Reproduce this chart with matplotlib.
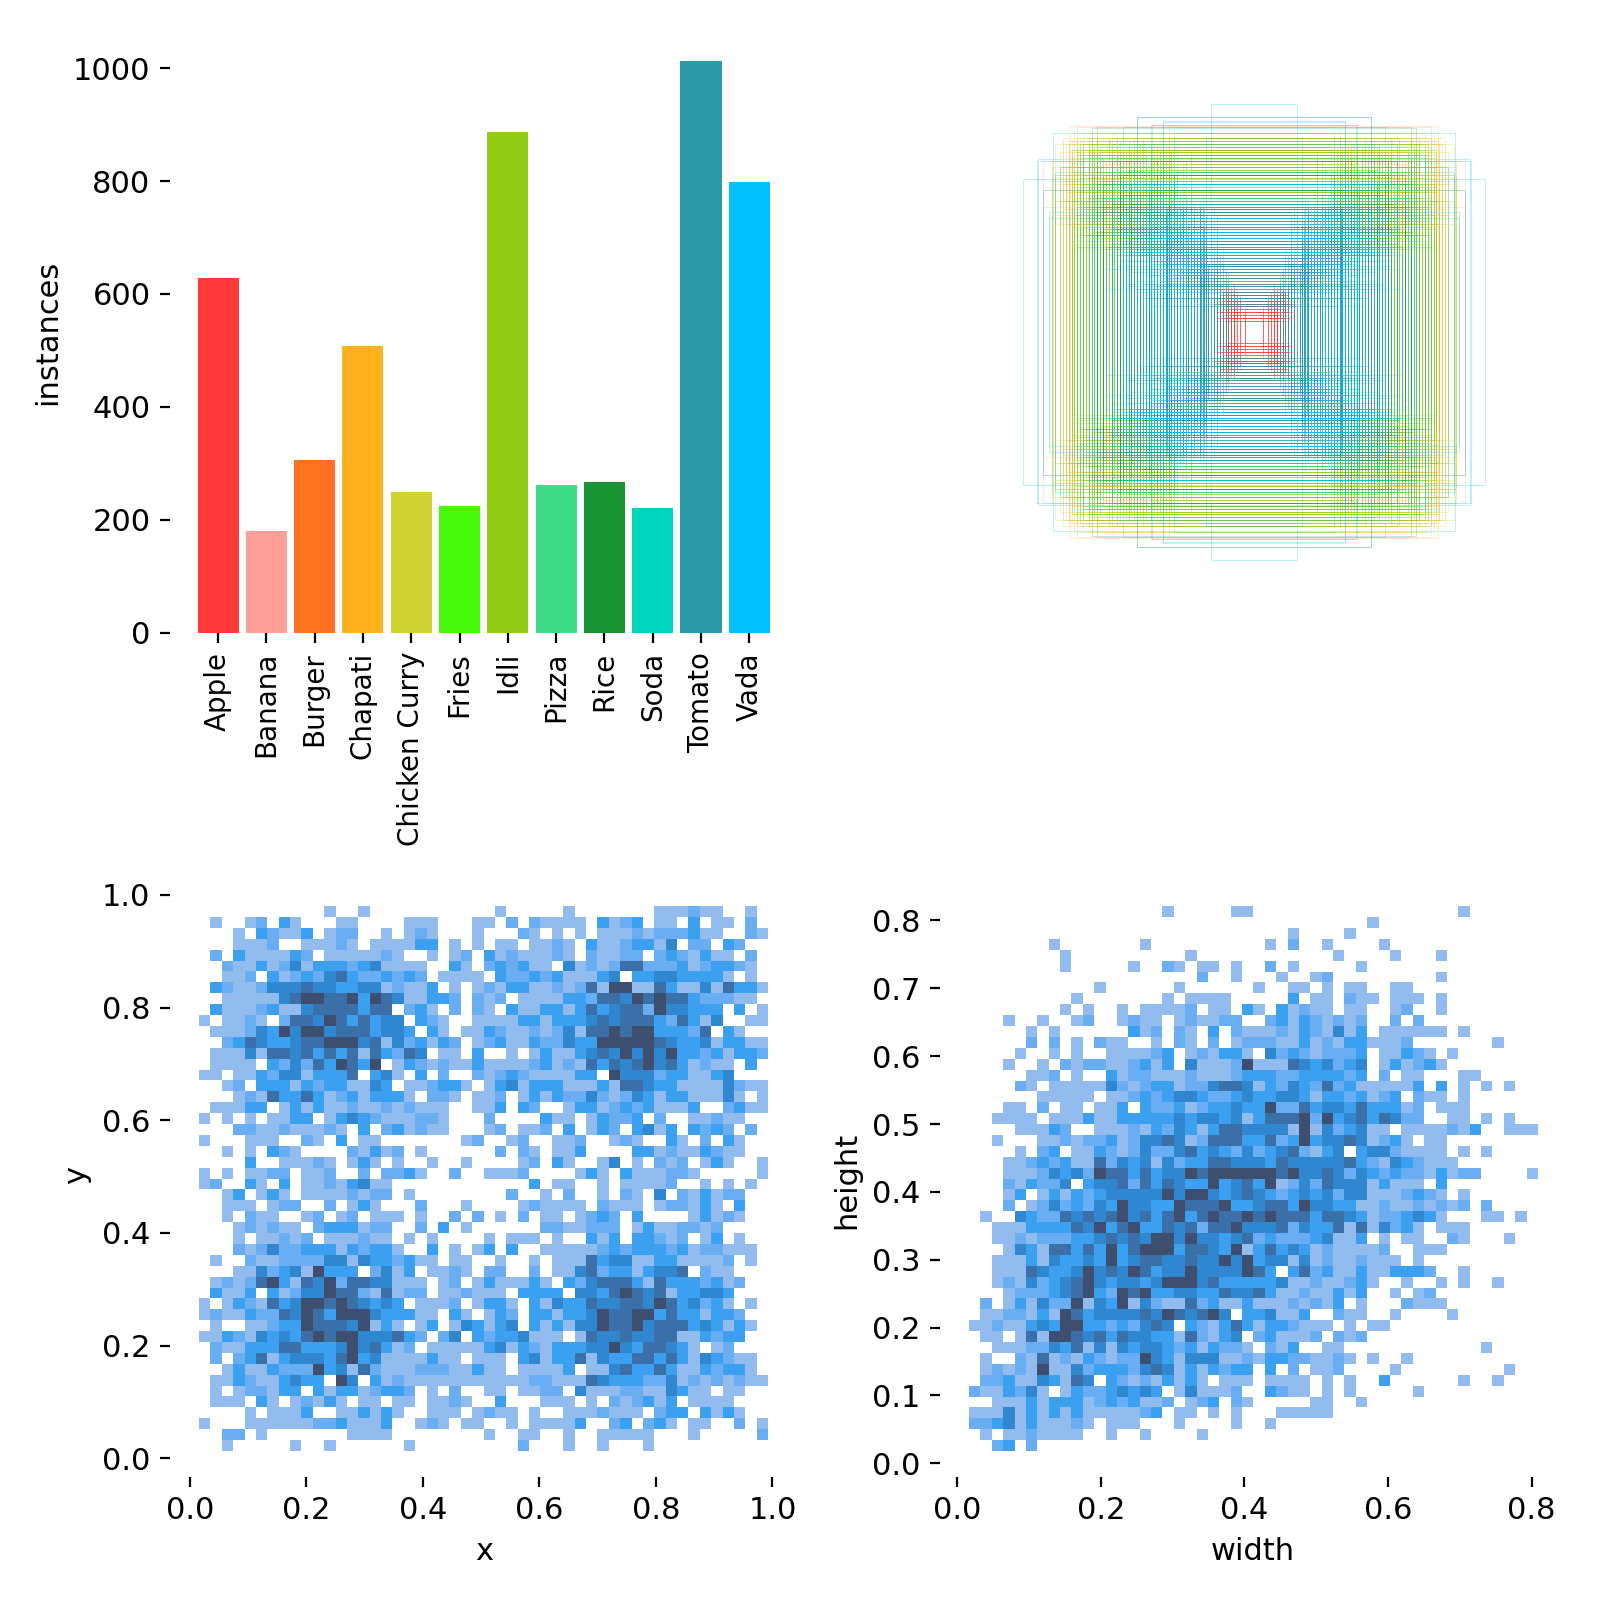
# labels overview: class counts, box outlines, x-y and width-height density
import matplotlib
matplotlib.use('Agg')
import matplotlib.pyplot as plt
from matplotlib.colors import ListedColormap
from matplotlib.patches import Rectangle
import numpy as np

# Set data
names = ['Apple', 'Banana', 'Burger', 'Chapati', 'Chicken Curry', 'Fries', 'Idli', 'Pizza', 'Rice', 'Soda', 'Tomato', 'Vada']
counts = [629, 180, 306, 508, 249, 225, 886, 261, 266, 221, 1013, 799]
colors = ['#FF3838', '#FF9D97', '#FF701F', '#FFB21D', '#CFD231', '#48F90A', '#92CC17', '#3DDB86', '#1A9334', '#00D4BB', '#2C99A8', '#00C2FF']

# box sizes per class (fraction of image)
apple_w = [.03, .05, .07, .08, .09, .10, .11, .12, .06, .07, .09, .10, .11, .13, .08, .12, .10, .14, .09, .07, .12, .13, .10, .11]
apple_h = [.05, .04, .09, .07, .12, .10, .14, .08, .13, .11, .06, .14, .09, .12, .15, .13, .17, .11, .10, .14, .07, .16, .12, .05]
banana_w = [.35, .62, .48, .70, .55, .42, .66, .30, .74, .58]
banana_h = [.52, .44, .68, .55, .72, .60, .46, .58, .50, .66]
burger_w = [.40, .41, .39, .42, .38, .28, .44, .36, .47, .33, .41, .52, .30, .40, .43, .46, .37, .25]
burger_h = [.40, .36, .43, .30, .46, .41, .39, .49, .33, .52, .27, .38, .44, .41, .35, .55, .42, .37]
chapati_w = [.48, .52, .56, .60, .63, .45, .50, .58, .54, .47, .61, .65, .43, .57, .38, .59, .34, .53, .49, .62, .64, .41, .55, .51, .46, .36]
chapati_h = [.50, .46, .60, .42, .55, .62, .37, .52, .48, .58, .40, .49, .64, .35, .66, .44, .54, .39, .56, .47, .61, .45, .34, .67, .53, .63]
curry_w = [.71, .70, .68, .66, .64, .62, .60, .58, .55, .50, .67, .63, .45, .40]
curry_h = [.41, .53, .46, .58, .38, .63, .49, .55, .68, .70, .43, .52, .60, .66]
fries_w = [.33, .40, .47, .52, .58, .36, .44, .55, .30, .49, .61, .42, .38, .56]
fries_h = [.56, .36, .50, .43, .33, .61, .46, .38, .52, .30, .41, .64, .47, .58]
idli_w = [.61, .60, .58, .55, .52, .50, .47, .45, .42, .40, .38, .36, .33, .30, .63, .62, .57, .54, .51, .48, .44, .41, .39, .35, .32,
          .28, .59, .56, .53, .49, .46, .43, .37, .34, .31, .25, .60, .52, .47, .42, .64, .58, .50, .44, .36, .29, .22, .55, .40, .33]
idli_h = [.67, .66, .64, .62, .60, .58, .56, .54, .52, .50, .48, .46, .44, .42, .58, .50, .45, .41, .37, .35, .33, .31, .30, .66, .63,
          .68, .40, .47, .53, .43, .39, .61, .57, .49, .65, .59, .34, .55, .38, .44, .36, .32, .46, .51, .42, .62, .64, .29, .34, .36]
pizza_w = [.30, .35, .38, .42, .46, .50, .54, .58, .62, .44, .33, .48, .27, .56, .40]
pizza_h = [.44, .52, .37, .58, .42, .34, .60, .47, .39, .65, .50, .30, .56, .44, .62]
rice_w = [.30, .34, .37, .40, .43, .46, .50, .53, .28, .41, .47, .36, .55, .32]
rice_h = [.38, .44, .33, .48, .40, .52, .36, .45, .55, .31, .42, .50, .35, .60]
soda_w = [.19, .22, .25, .28, .31, .34, .37, .40, .45, .29, .33, .26, .36, .32, .27, .41, .30, .24, .35, .38, .21]
soda_h = [.43, .44, .43, .44, .39, .43, .45, .41, .43, .37, .43, .33, .46, .40, .43, .44, .43, .35, .44, .30, .30]
tomato_w = [.167, .17, .175, .18, .185, .19, .20, .21, .23, .25, .27, .29, .305, .31, .32, .17, .18, .19, .20, .22, .24, .26, .28, .30, .31, .33, .35, .37, .39, .42,
            .45, .18, .19, .21, .23, .30, .31, .305, .28, .25, .17, .175, .19, .33, .36, .40, .44, .48, .31, .29, .27, .20, .22, .16, .15, .14, .13, .34, .38, .41,
            .09, .10, .11, .12, .13, .14, .16]
tomato_h = [.21, .22, .24, .26, .28, .19, .21, .29, .27, .23, .28, .20, .30, .26, .24, .30, .33, .36, .22, .31, .29, .21, .35, .28, .38, .27, .25, .30, .22, .29,
            .28, .17, .18, .16, .20, .34, .40, .43, .44, .42, .41, .39, .43, .33, .37, .31, .35, .27, .29, .32, .36, .25, .28, .21, .23, .19, .24, .41, .44, .36,
            .12, .09, .14, .10, .16, .12, .15]
vada_w = [.31, .34, .39, .26, .22, .44, .52, .30, .18, .25, .33, .46, .24, .20, .28, .36, .50, .41]
vada_h = [.30, .25, .33, .20, .34, .28, .27, .22, .25, .15, .40, .36, .44, .30, .38, .48, .35, .52]
box_w = [apple_w, banana_w, burger_w, chapati_w, curry_w, fries_w, idli_w, pizza_w, rice_w, soda_w, tomato_w, vada_w]
box_h = [apple_h, banana_h, burger_h, chapati_h, curry_h, fries_h, idli_h, pizza_h, rice_h, soda_h, tomato_h, vada_h]

# largest outlines that stand alone
outer_w = [.81, .757, .705, .76, .74, .72, .68, .65, .60, .55, .50, .46, .41, .36, .32, .28, .24, .15, .167, .319, .358, .412, .57, .645, .58, .60, .65, .72, .70]
outer_h = [.537, .607, .697, .60, .50, .42, .58, .38, .62, .47, .66, .72, .756, .725, .737, .70, .60, .80, .68, .74, .725, .756, .715, .724, .52, .61, .46, .40, .56]
outer_c = [11, 11, 9, 11, 9, 11, 9, 1, 11, 9, 11, 9, 10, 9, 11, 9, 11, 11, 10, 9, 9, 10, 10, 3, 9, 9, 9, 9, 9]

# density levels, one string per row from the top, 0 = empty
xy_rows = [
    "0000000000 0100100000 0000001000 0010000000 1112110010",
    "0100120310 0011000011 1000110202 1111031230 1103011020",
    "0001032113 0122001012 1000100021 0101011121 2223110021",
    "0001112001 1121011113 3010101101 1210311233 1402203200",
    "0203111132 0111112100 1012031211 1210211220 2321311020",
    "0021131241 3332341111 0031023231 1041212552 2231233210",
    "0011203123 2453223232 0111103223 2311134033 4433331010",
    "0321124445 4433441211 3010121331 1212516611 5311415331",
    "0011111456 6556365411 3320212011 1133255465 6553222110",
    "0311123114 5555355023 1020210311 3313534552 6443330301",
    "1011210255 4653534403 2100111133 1333454555 3253140011",
    "0111243646 6455534430 3101132112 1241556566 3332503100",
    "0023543345 5666451423 1320123113 2243366666 5433413311",
    "0111415545 3535153254 0110300101 3113454646 4633231332",
    "0111103242 5365360132 1211311112 3121535456 4531211030",
    "1101132441 3335034103 0200212321 1113306444 2331134000",
    "0012033313 2331143011 2331013413 3311131554 3311114211",
    "0001215335 3123133310 2210112013 1322421243 1331114101",
    "0111330131 3112112121 1100113032 0013312323 1113002311",
    "1010101133 0134321112 2100020000 3110132230 2001121100",
    "0002211211 1210302312 1100012011 2030132034 1303232020",
    "1000111002 1030110000 0001200120 0112001210 0310203100",
    "0010103210 0002131201 0000002021 0113000033 1211321100",
    "0000300111 2101310100 1001000012 0310014010 2120131001",
    "1010112201 1200202231 0020011120 0001310311 1221000001",
    "1200310301 1213411000 0000000003 0110010111 1200101010",
    "0013013101 1112122010 0000000200 1020010210 4021312200",
    "0011101220 0201310002 0001000012 1111021110 1221310300",
    "0010211001 2012011101 0020201020 1101232030 0001312100",
    "0001212110 2333122002 0301000000 2211222013 1122120000",
    "0001011212 0111211010 1000010111 0100313033 2120130100",
    "0002124223 3313233100 3010130300 1111123233 3231221110",
    "0100211222 2441433231 1011001001 0111534411 3311112010",
    "0001142341 6333024130 1121022002 0114523313 4450211000",
    "0121256315 4625544111 0120131113 1032455531 5333231200",
    "0311303124 4655215122 0112111033 3304435654 5133443000",
    "1013215346 6565434301 1120133103 1433544554 6534231010",
    "1211322546 5366643331 1031013203 3133465566 3533133200",
    "0100112336 5554613101 3014313403 1314465564 5553431310",
    "1132143435 6566444532 0240323341 1101544544 5511323300",
    "0211333553 3346453120 1111134132 1333446435 5431012000",
    "0202351344 4356341111 3110111034 1335143355 3531432110",
    "0013113222 6341521112 2211311011 1130114533 5311323310",
    "0113211343 3064031211 1111111112 2111543332 2412121211",
    "0101221330 3133123320 1020011011 2204111221 1431101100",
    "0111031012 1310110110 1121003000 1110102123 1301111000",
    "0000101113 0011313100 1110121101 0011121110 2330313100",
    "1000111111 2231113001 2101100101 1113002302 3101100201",
    "0022010000 0001111000 0000010011 0010011111 0001000002",
    "0010000010 0100000010 0000000020 0010010001 0000000000",
]
wh_rows = [
    "0000000000 0000000100 0001100000 0000000000 0001000000",
    "0000000000 0000000000 0000000000 0000010000 0000000000",
    "0000000000 0000000000 0000000010 0001000000 0000000000",
    "0000000100 0000010000 0000001020 0100001000 0000000000",
    "0000000010 0000000001 0000000000 0010000100 0100000000",
    "0000000010 0000100210 1101002010 0000100000 0000000000",
    "0000000000 0000000000 2001000100 1200000000 0100000000",
    "0000000000 0100000010 0000010011 0101100110 0000000000",
    "0000000001 0000000101 1110000030 1102110111 0100000000",
    "0000000010 1001011112 0110310312 1101100120 0100000000",
    "0001001001 2001211012 1122002313 2121200202 0000000000",
    "0000010100 0000312021 0302111213 2141301111 1101000000",
    "0000020201 0211001021 0201222113 1213311120 0000001000",
    "0000100101 0011112301 2133104232 1222301132 1010000000",
    "0001001021 2211231304 1112611154 3423401312 3100000000",
    "0000011201 0031221112 1112333223 3332302011 0001100000",
    "0000210111 1142123312 2455413243 2523111113 0301010100",
    "0000001111 1011232344 3223433443 1332312302 1101000000",
    "0001102011 0113032231 2334336225 3443533312 0111000000",
    "0011110111 3113333343 4434135556 2634535422 0011010100",
    "0000111320 0111213243 1355444416 1423411011 1121300111",
    "0010001121 2231244541 2555335236 3445412310 1100000000",
    "0000102301 1321242245 3432423452 1340344211 1101010000",
    "0001123231 1524341423 3554443544 4445321432 1110000000",
    "0001112434 2655353446 5666666564 4542432322 1312200001",
    "0002132240 3445253543 3634536124 2544413111 0300000000",
    "0001301313 2344444646 6434543234 3424411123 2101000000",
    "0002012423 2436443365 5563345536 4433112112 1212020000",
    "0100432254 5456453563 5655656555 3554312234 3100011010",
    "0011133335 4635633545 2556444524 3351514231 0111000000",
    "0011212223 3454546646 4434523222 3411301011 0021000100",
    "0001431553 5363566635 5436135343 1211112001 1100000000",
    "0011131433 4363455445 4464634414 1211211101 0000000000",
    "0011154334 6454653446 4444653035 2311311333 2001000000",
    "0012142345 6434434666 4533333411 2112310010 0101001000",
    "0001222345 6326563344 3354453112 1131300101 2000000000",
    "0201314226 1436142115 2311311121 2130100021 1100000000",
    "0112213165 3444454654 5640334113 0021100100 0010000000",
    "1121134366 3323245403 2135313321 1101011000 0000000000",
    "0110151665 4535443315 2134023111 2021200000 0000000000",
    "0011122435 1414344323 1322102130 0110000000 0000010000",
    "0100215121 3212264314 4411213322 1121010010 0000000000",
    "0121216114 2333245413 1323303020 1120000100 0000000100",
    "0223114315 4032121313 1011101111 0101003000 0001001000",
    "2113241013 2234343014 1112003211 0101000001 0000000000",
    "0011131333 1232311201 2302100000 1100100000 0000000000",
    "1114131313 1111123011 0101000111 1100000000 0000000000",
    "2234131112 1011100010 0001001000 0000000000 0000000000",
    "0101121111 0010010000 1000000000 0000000000 0000000000",
    "0023020000 0000000000 0000000000 0000000000 0000000000",
]
level_colors = ['#FFFFFF', '#93BCEE', '#69AEF2', '#3BA0F0', '#2F87D0', '#3A6FA8', '#3E4E6E']
xy_ticks = [0.0, 0.2, 0.4, 0.6, 0.8, 1.0]
wh_xticks = [0.0, 0.2, 0.4, 0.6, 0.8]
wh_yticks = [0.0, 0.1, 0.2, 0.3, 0.4, 0.5, 0.6, 0.7, 0.8]
bar_ticks = [0, 200, 400, 600, 800, 1000]

plt.rcParams['xtick.labelsize'] = 11
plt.rcParams['ytick.labelsize'] = 11
plt.rcParams['axes.labelsize'] = 11


def axes_px(fig, left, top, right, bottom):
    return fig.add_axes([left / 1600, 1 - bottom / 1600, (right - left) / 1600, (bottom - top) / 1600])


def levels(rows):
    return np.array([[int(c) for c in r.replace(' ', '')] for r in rows])


def density(ax, rows, xr, yr):
    xe = np.linspace(xr[0], xr[1], 51)
    ye = np.linspace(yr[0], yr[1], 51)
    ax.pcolormesh(xe, ye, levels(rows), cmap=ListedColormap(level_colors), vmin=-0.5, vmax=6.5)


def outline(ax, w, h, color):
    ax.add_patch(Rectangle((0.5 - w / 2, 0.5 - h / 2), w, h, fill=False, ec=color, lw=0.3, alpha=0.3))


fig = plt.figure(figsize=(8, 8), dpi=200)

# class counts
ax = axes_px(fig, 170, 32, 800, 632.6)
ax.bar(range(len(names)), counts, width=0.85, color=colors)
ax.set_xlim(-0.995, 12.05)
ax.set_ylim(0, 1064)
ax.set_yticks(bar_ticks)
ax.set_xticks(range(len(names)))
ax.set_xticklabels(names, rotation=90, fontsize=10)
ax.set_ylabel('instances')

# box outlines, all centred; sizes of a class are paired several ways for density
ax = axes_px(fig, 969, 47, 1539, 617)
ax.set_xlim(0, 1)
ax.set_ylim(0, 1)
for c in range(len(names)):
    for shift in [0, 1, 3, 7, 12]:
        for w, h in zip(box_w[c], box_h[c][shift:] + box_h[c][:shift]):
            if w * w + h * h < 0.95:
                outline(ax, w, h, colors[c])
for w, h, c in zip(outer_w, outer_h, outer_c):
    outline(ax, w, h, colors[c])
ax.axis('off')

# x, y density
ax = axes_px(fig, 170, 874, 797.5, 1477)
density(ax, xy_rows, (0.0158, 0.9925), (0.980, 0.0128))
ax.set_xlim(-0.034, 1.043)
ax.set_ylim(-0.0334, 1.037)
ax.set_xticks(xy_ticks)
ax.set_yticks(xy_ticks)
ax.set_xlabel('x')
ax.set_ylabel('y')

# width, height density
ax = axes_px(fig, 940, 884, 1566, 1477)
density(ax, wh_rows, (0.0164, 0.8089), (0.821, 0.0181))
ax.set_xlim(-0.024, 0.848)
ax.set_ylim(-0.0202, 0.8537)
ax.set_xticks(wh_xticks)
ax.set_yticks(wh_yticks)
ax.set_xlabel('width')
ax.set_ylabel('height')

for a in fig.axes:
    for s in a.spines.values():
        s.set_visible(False)

plt.savefig('out.png', dpi=200)
